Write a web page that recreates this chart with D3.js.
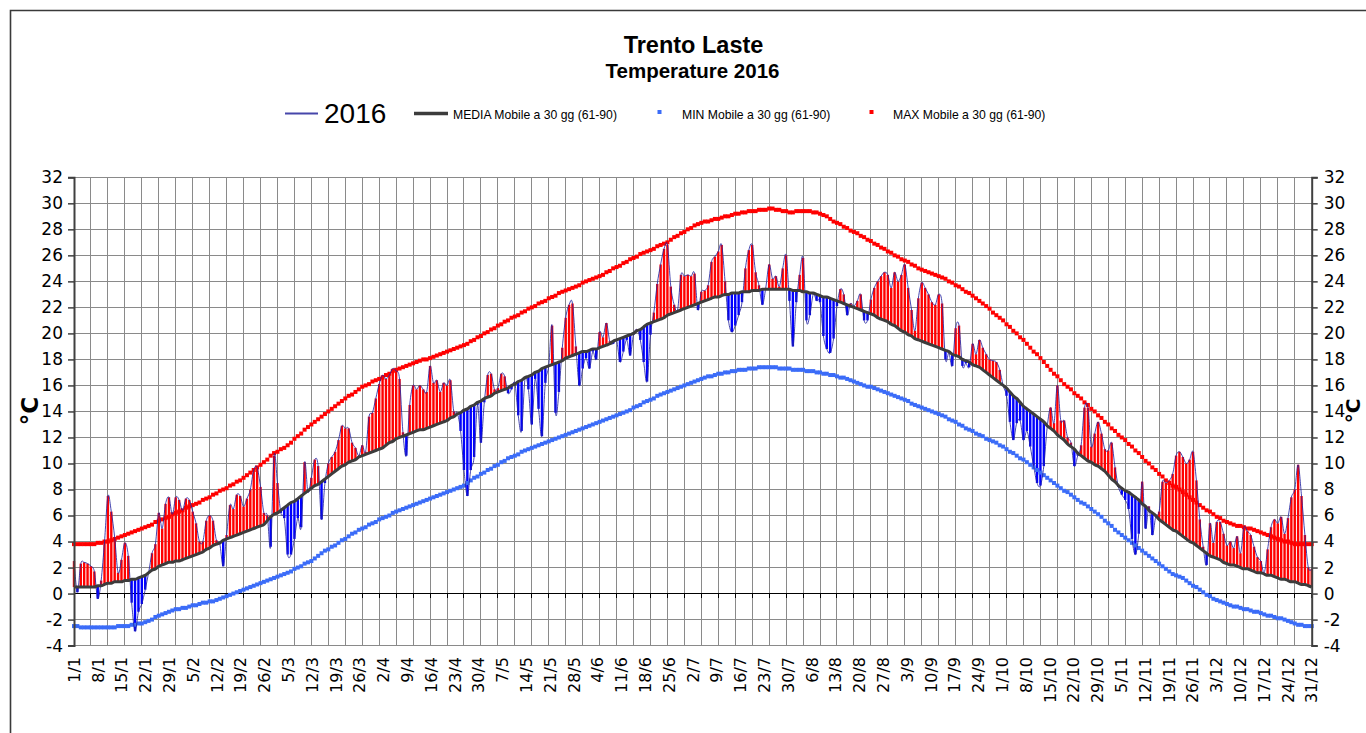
<!DOCTYPE html>
<html><head><meta charset="utf-8">
<script src="https://cdn.jsdelivr.net/npm/d3@7"></script>
<style>body{margin:0;background:#fff;overflow:hidden}</style>
</head><body>
<svg id="c" width="1366" height="733"></svg>
<script>
// ---------- data ----------
const yTicks = [-4,-2,0,2,4,6,8,10,12,14,16,18,20,22,24,26,28,30,32];
const xTickLabels = ["1/1","8/1","15/1","22/1","29/1","5/2","12/2","19/2","26/2","5/3","12/3","19/3","26/3","2/4","9/4","16/4","23/4","30/4","7/5","14/5","21/5","28/5","4/6","11/6","18/6","25/6","2/7","9/7","16/7","23/7","30/7","6/8","13/8","20/8","27/8","3/9","10/9","17/9","24/9","1/10","8/10","15/10","22/10","29/10","5/11","12/11","19/11","26/11","3/12","10/12","17/12","24/12","31/12"];
const seriesNames = ["2016","MEDIA Mobile a 30 gg (61-90)","MIN Mobile a 30 gg (61-90)","MAX Mobile a 30 gg (61-90)"];

// daily mean temperature 2016 (°C), one value per day 1/1 .. 31/12
const temp2016 = [
2.5,0.1,2.3,2.4,2.3,2.1,1.7,-0.4,1.0,4.0,
7.5,6.3,4.3,1.6,2.6,3.9,2.9,-0.7,-2.9,-1.4,
-0.8,0.3,1.6,3.1,3.8,6.2,5.0,6.9,7.4,6.1,
7.4,7.2,6.4,7.3,7.2,6.3,5.4,4.0,4.0,5.6,
6.0,5.6,4.1,3.8,2.1,4.5,6.8,6.5,7.6,7.5,
6.7,7.3,8.0,9.5,9.7,8.2,6.2,6.0,3.6,10.6,
8.5,6.2,5.8,3.0,3.0,4.2,5.8,5.1,10.1,7.8,
8.9,10.3,9.8,5.7,8.5,10.0,10.5,10.9,11.8,12.9,
12.7,12.7,11.6,11.2,10.6,11.4,10.9,13.6,13.9,15.0,
16.1,16.8,16.5,16.8,17.3,17.1,16.5,12.4,10.6,14.5,
16.0,15.7,16.0,15.7,15.5,17.5,16.2,16.4,15.5,16.2,
16.0,16.4,14.0,13.9,12.5,9.5,7.5,9.5,10.5,14.5,
11.6,14.7,16.8,16.9,15.7,15.8,16.9,16.7,15.4,15.7,
16.2,13.7,12.5,16.5,15.7,13.0,16.5,14.2,12.1,16.2,
17.5,20.6,13.9,15.5,18.9,21.2,22.2,22.3,19.0,16.0,
17.3,18.1,17.3,18.6,18.0,20.1,19.7,20.8,19.4,19.2,
19.5,17.8,18.6,19.5,18.3,19.9,20.3,19.5,17.8,16.3,
19.9,21.6,23.8,25.3,26.5,26.8,23.6,22.2,21.8,24.5,
24.4,24.5,24.4,24.6,21.8,23.2,23.3,23.7,25.5,25.9,
26.3,26.8,24.0,21.0,20.1,20.6,21.4,22.4,25.0,26.4,
26.8,24.7,23.7,22.2,23.5,25.3,24.2,24.4,23.6,25.0,
26.0,22.5,19.0,22.4,24.5,25.8,21.0,21.4,23.0,22.5,
22.4,19.8,18.8,18.5,19.6,22.1,23.4,23.0,21.4,22.3,
22.1,22.5,23.0,21.0,21.0,22.6,23.5,24.0,24.4,24.7,
24.5,23.5,24.7,24.0,24.5,25.3,23.5,21.8,20.2,22.7,
23.9,23.5,23.0,22.4,22.2,23.0,22.3,18.0,18.5,17.5,
20.4,20.6,17.5,17.7,17.4,19.2,18.4,19.5,18.9,18.4,
18.0,17.9,17.8,17.2,16.0,15.2,13.2,11.8,13.1,13.3,
11.8,12.5,11.3,9.8,8.5,8.3,9.8,12.8,14.3,13.1,
16.0,13.3,13.3,12.0,11.6,9.8,10.6,11.4,14.3,14.3,
11.3,12.3,13.2,12.3,11.1,11.0,11.6,9.7,8.2,7.6,
7.2,6.5,4.2,3.0,4.6,8.6,5.0,6.7,4.5,5.9,
6.3,8.6,8.5,8.7,9.2,10.6,10.9,10.5,10.0,10.3,
10.9,8.7,5.7,3.6,2.2,5.4,3.9,5.5,5.5,4.6,
3.7,4.0,3.5,4.4,3.1,5.1,4.8,4.5,3.6,2.8,
2.5,1.6,3.4,5.1,5.7,5.4,5.9,4.6,5.8,7.4,
8.0,9.9,7.5,4.5,2.0,1.9
];

// 30-day moving average of the mean (1961-90)
const mediaMA = [
0.5,0.5,0.5,0.5,0.5,0.5,0.5,0.6,0.6,0.7,
0.8,0.8,0.9,0.9,0.9,1.0,1.0,1.1,1.1,1.2,
1.3,1.4,1.6,1.8,1.9,2.1,2.2,2.3,2.4,2.4,
2.5,2.5,2.6,2.7,2.8,2.9,3.0,3.1,3.2,3.4,
3.5,3.7,3.8,3.9,4.1,4.2,4.3,4.4,4.5,4.6,
4.7,4.8,4.9,5.0,5.1,5.2,5.3,5.6,5.9,6.1,
6.2,6.4,6.6,6.8,7.0,7.1,7.3,7.5,7.7,7.9,
8.1,8.3,8.4,8.6,8.8,9.0,9.2,9.4,9.6,9.8,
9.9,10.1,10.2,10.3,10.5,10.6,10.7,10.8,10.9,11.0,
11.1,11.2,11.4,11.6,11.7,11.9,12.0,12.1,12.2,12.3,
12.4,12.5,12.6,12.6,12.7,12.8,12.9,13.0,13.1,13.2,
13.3,13.5,13.6,13.8,13.9,14.1,14.2,14.4,14.5,14.7,
14.8,15.0,15.1,15.2,15.4,15.5,15.6,15.7,15.8,16.0,
16.1,16.3,16.4,16.6,16.7,16.8,17.0,17.1,17.3,17.4,
17.5,17.6,17.7,17.8,17.9,18.1,18.2,18.3,18.4,18.5,
18.6,18.6,18.7,18.8,18.8,18.9,19.0,19.1,19.2,19.4,
19.5,19.6,19.7,19.8,19.9,20.0,20.2,20.3,20.5,20.7,
20.8,20.9,21.0,21.1,21.2,21.4,21.5,21.6,21.7,21.8,
21.9,22.0,22.1,22.2,22.3,22.4,22.5,22.6,22.7,22.8,
22.8,22.9,23.0,23.0,23.1,23.1,23.1,23.2,23.2,23.2,
23.3,23.3,23.3,23.4,23.4,23.4,23.4,23.4,23.4,23.4,
23.4,23.4,23.3,23.3,23.3,23.2,23.2,23.1,23.1,23.0,
22.9,22.8,22.8,22.7,22.6,22.5,22.4,22.3,22.2,22.1,
22.0,21.9,21.8,21.7,21.6,21.5,21.4,21.2,21.1,21.0,
20.9,20.7,20.6,20.4,20.2,20.1,19.9,19.8,19.6,19.5,
19.4,19.3,19.2,19.1,19.0,18.9,18.8,18.7,18.6,18.4,
18.3,18.2,18.0,17.9,17.8,17.6,17.5,17.4,17.2,17.0,
16.8,16.6,16.4,16.2,16.0,15.8,15.5,15.2,15.0,14.7,
14.4,14.2,14.0,13.8,13.6,13.4,13.2,12.9,12.7,12.5,
12.2,12.0,11.8,11.5,11.3,11.1,10.8,10.6,10.4,10.2,
10.1,9.9,9.8,9.6,9.4,9.1,8.8,8.6,8.3,8.1,
7.9,7.8,7.6,7.4,7.2,6.9,6.7,6.4,6.2,6.0,
5.7,5.5,5.3,5.1,4.9,4.8,4.6,4.4,4.2,4.0,
3.9,3.7,3.5,3.3,3.1,2.9,2.8,2.7,2.6,2.4,
2.3,2.2,2.2,2.1,2.0,1.9,1.9,1.8,1.7,1.6,
1.6,1.5,1.4,1.4,1.3,1.2,1.1,1.1,1.0,0.9,
0.9,0.8,0.7,0.7,0.6,0.5
];

// 30-day moving average of the minimum (1961-90)
const minMA = [
-2.5,-2.5,-2.6,-2.6,-2.6,-2.6,-2.6,-2.6,-2.6,-2.6,
-2.6,-2.6,-2.6,-2.5,-2.5,-2.5,-2.5,-2.4,-2.4,-2.3,
-2.3,-2.2,-2.1,-2.0,-1.8,-1.7,-1.6,-1.5,-1.4,-1.3,
-1.2,-1.2,-1.1,-1.1,-1.0,-0.9,-0.9,-0.8,-0.7,-0.7,
-0.6,-0.6,-0.5,-0.4,-0.3,-0.2,-0.1,0.0,0.1,0.2,
0.3,0.4,0.5,0.6,0.7,0.8,0.9,1.0,1.1,1.2,
1.3,1.4,1.5,1.6,1.7,1.9,2.0,2.1,2.3,2.4,
2.5,2.7,2.9,3.1,3.3,3.4,3.6,3.7,3.9,4.1,
4.2,4.4,4.6,4.7,4.9,5.0,5.1,5.3,5.4,5.5,
5.7,5.8,5.9,6.0,6.2,6.3,6.4,6.5,6.6,6.7,
6.8,6.9,7.0,7.1,7.2,7.3,7.4,7.5,7.6,7.7,
7.8,7.9,8.0,8.1,8.2,8.3,8.5,8.7,8.9,9.0,
9.2,9.3,9.5,9.6,9.8,9.9,10.1,10.2,10.4,10.5,
10.6,10.7,10.9,11.0,11.1,11.2,11.3,11.4,11.5,11.6,
11.7,11.8,11.9,12.0,12.1,12.2,12.3,12.4,12.5,12.6,
12.7,12.8,12.9,13.0,13.1,13.2,13.3,13.4,13.5,13.6,
13.7,13.8,13.9,14.0,14.1,14.3,14.4,14.5,14.7,14.8,
14.9,15.0,15.2,15.3,15.4,15.5,15.6,15.7,15.8,15.9,
16.0,16.1,16.2,16.3,16.4,16.5,16.6,16.7,16.7,16.8,
16.9,16.9,17.0,17.0,17.1,17.1,17.2,17.2,17.2,17.3,
17.3,17.3,17.4,17.4,17.4,17.4,17.4,17.4,17.3,17.3,
17.3,17.3,17.2,17.2,17.2,17.2,17.1,17.1,17.1,17.0,
17.0,16.9,16.9,16.8,16.8,16.7,16.6,16.6,16.5,16.4,
16.3,16.2,16.1,16.0,15.9,15.9,15.8,15.7,15.6,15.5,
15.4,15.3,15.2,15.1,15.0,14.9,14.8,14.6,14.5,14.4,
14.3,14.2,14.1,14.0,13.9,13.8,13.7,13.6,13.4,13.3,
13.2,13.0,12.9,12.7,12.6,12.5,12.3,12.2,12.1,11.9,
11.8,11.7,11.6,11.4,11.3,11.1,10.9,10.8,10.6,10.4,
10.3,10.1,9.9,9.7,9.5,9.3,9.1,8.9,8.7,8.5,
8.3,8.1,7.9,7.8,7.6,7.4,7.2,7.0,6.9,6.7,
6.5,6.3,6.1,5.9,5.6,5.4,5.2,4.9,4.7,4.5,
4.3,4.1,3.9,3.7,3.5,3.3,3.1,2.9,2.7,2.5,
2.3,2.1,1.9,1.7,1.5,1.4,1.3,1.2,1.0,0.8,
0.6,0.5,0.3,0.1,-0.1,-0.2,-0.4,-0.5,-0.6,-0.7,
-0.8,-0.9,-1.0,-1.0,-1.1,-1.2,-1.2,-1.3,-1.4,-1.4,
-1.5,-1.6,-1.7,-1.7,-1.8,-1.9,-1.9,-2.0,-2.1,-2.2,
-2.3,-2.4,-2.4,-2.5,-2.5,-2.5
];

// 30-day moving average of the maximum (1961-90)
const maxMA = [
3.8,3.8,3.8,3.8,3.8,3.8,3.8,3.9,3.9,4.0,
4.0,4.1,4.2,4.3,4.4,4.5,4.6,4.7,4.8,4.9,
5.0,5.1,5.2,5.3,5.5,5.6,5.7,5.8,5.9,6.1,
6.2,6.3,6.4,6.6,6.7,6.8,6.9,7.0,7.2,7.3,
7.4,7.6,7.7,7.9,8.0,8.1,8.3,8.4,8.6,8.7,
8.9,9.1,9.3,9.5,9.7,9.9,10.1,10.3,10.6,10.8,
10.9,11.1,11.2,11.4,11.6,11.9,12.1,12.3,12.6,12.8,
13.0,13.2,13.4,13.6,13.8,14.0,14.2,14.4,14.6,14.8,
15.0,15.2,15.3,15.5,15.7,15.9,16.0,16.1,16.3,16.4,
16.5,16.6,16.8,16.9,17.1,17.2,17.3,17.4,17.5,17.6,
17.7,17.8,17.9,18.0,18.0,18.1,18.2,18.3,18.4,18.5,
18.6,18.7,18.8,18.9,19.0,19.1,19.2,19.4,19.5,19.7,
19.8,20.0,20.1,20.3,20.4,20.6,20.7,20.9,21.0,21.2,
21.3,21.4,21.6,21.7,21.9,22.0,22.1,22.3,22.4,22.5,
22.7,22.8,22.9,23.1,23.2,23.3,23.4,23.5,23.6,23.7,
23.9,24.0,24.1,24.2,24.3,24.4,24.5,24.7,24.8,25.0,
25.1,25.2,25.4,25.5,25.7,25.8,25.9,26.1,26.2,26.3,
26.4,26.5,26.7,26.8,26.9,27.0,27.2,27.4,27.5,27.7,
27.8,28.0,28.1,28.3,28.4,28.5,28.6,28.6,28.7,28.8,
28.8,28.9,29.0,29.0,29.1,29.2,29.2,29.3,29.3,29.4,
29.4,29.4,29.5,29.5,29.5,29.6,29.6,29.5,29.5,29.4,
29.4,29.3,29.3,29.4,29.4,29.4,29.4,29.4,29.3,29.3,
29.2,29.1,29.0,28.8,28.6,28.5,28.4,28.2,28.1,27.9,
27.8,27.7,27.5,27.4,27.2,27.1,26.9,26.8,26.6,26.5,
26.3,26.2,26.0,25.9,25.7,25.6,25.5,25.3,25.2,25.0,
24.9,24.8,24.7,24.6,24.5,24.4,24.3,24.2,24.0,23.9,
23.7,23.6,23.4,23.2,23.1,22.9,22.7,22.5,22.3,22.1,
21.9,21.6,21.4,21.2,21.0,20.7,20.5,20.2,20.0,19.7,
19.5,19.2,18.9,18.6,18.4,18.1,17.8,17.5,17.2,16.9,
16.7,16.4,16.1,15.9,15.7,15.4,15.2,15.0,14.7,14.5,
14.2,14.0,13.7,13.5,13.2,13.0,12.7,12.5,12.2,12.0,
11.8,11.5,11.3,11.0,10.8,10.5,10.2,10.0,9.7,9.5,
9.2,9.0,8.7,8.5,8.3,8.2,8.0,7.8,7.6,7.4,
7.2,7.0,6.8,6.6,6.4,6.3,6.1,5.9,5.8,5.6,
5.5,5.4,5.3,5.2,5.2,5.1,5.0,5.0,4.9,4.8,
4.7,4.6,4.5,4.4,4.3,4.2,4.1,4.0,4.0,3.9,
3.8,3.8,3.8,3.8,3.8,3.8
];

// ---------- chart ----------
const svg = d3.select("#c");
const X0 = 74, X1 = 1311.7, YT = 177.3, YB = 645.6;
const nDays = temp2016.length;
const x = d3.scaleLinear().domain([0, nDays - 1]).range([X0, X1]);
const y = d3.scaleLinear().domain([-4, 32]).range([YB, YT]);
const xLab = d3.scalePoint().domain(xTickLabels).range([X0, X1]);
const days = d3.range(nDays);

// outer frame
svg.append("path").attr("d", "M10.5,733 V10.5 H1366")
  .attr("fill", "none").attr("stroke", "#3a3a3a").attr("stroke-width", 1.6);

// grid
const grid = svg.append("g").attr("shape-rendering", "crispEdges");
grid.selectAll("line.h").data(yTicks.filter(v => v !== 0)).join("line")
  .attr("x1", X0).attr("x2", X1).attr("y1", d => y(d)).attr("y2", d => y(d))
  .attr("stroke", "#8a8a8a").attr("stroke-width", 1);
grid.selectAll("line.v").data(days.filter(d => d % 5 === 0 && d > 0 && d < nDays - 1)).join("line")
  .attr("x1", d => x(d)).attr("x2", d => x(d)).attr("y1", YT).attr("y2", YB)
  .attr("stroke", "#8a8a8a").attr("stroke-width", 1);

// zero axis with small ticks
svg.append("line").attr("x1", X0).attr("x2", X1).attr("y1", y(0)).attr("y2", y(0))
  .attr("stroke", "#000").attr("stroke-width", 1).attr("shape-rendering", "crispEdges");
svg.append("g").selectAll("line").data(days.filter(d => d % 5 === 0)).join("line")
  .attr("x1", d => x(d)).attr("x2", d => x(d)).attr("y1", y(0)).attr("y2", y(0) + 4)
  .attr("stroke", "#000").attr("stroke-width", 1).attr("shape-rendering", "crispEdges");

// deviation bars
svg.append("g").selectAll("rect").data(days).join("rect")
  .attr("x", d => x(d) - 1.2).attr("width", 2.4)
  .attr("y", d => y(Math.max(temp2016[d], mediaMA[d])))
  .attr("height", d => Math.abs(y(temp2016[d]) - y(mediaMA[d])))
  .attr("fill", d => temp2016[d] >= mediaMA[d] ? "#ff0000" : "#0000ff");

// MIN / MAX markers
function markers(arr, color) {
  svg.append("g").selectAll("rect").data(days).join("rect")
    .attr("x", d => x(d) - 2).attr("y", d => y(arr[d]) - 2)
    .attr("width", 4).attr("height", 4).attr("fill", color);
}
markers(minMA, "#3b6cf8");
markers(maxMA, "#ff0000");

// daily line
svg.append("path").datum(days)
  .attr("d", d3.line().x(d => x(d)).y(d => y(temp2016[d])).curve(d3.curveCardinal.tension(0)))
  .attr("fill", "none").attr("stroke", "#2424a0").attr("stroke-width", 0.85);

// media line
svg.append("path").datum(days)
  .attr("d", d3.line().x(d => x(d)).y(d => y(mediaMA[d])).curve(d3.curveMonotoneX))
  .attr("fill", "none").attr("stroke", "#3c3c3c").attr("stroke-width", 3);

// axes
const axisFont = "'DejaVu Sans', Verdana, sans-serif";
const fmt = d => String(d);
svg.append("g").attr("transform", `translate(${X0},0)`)
  .call(d3.axisLeft(y).tickValues(yTicks).tickSize(6).tickPadding(5).tickFormat(fmt))
  .call(g => g.select(".domain").attr("stroke", "#404040").attr("stroke-width", 2))
  .call(g => g.selectAll(".tick line").attr("stroke", "#404040").attr("stroke-width", 1.5))
  .call(g => g.selectAll("text").attr("font-family", axisFont).attr("font-size", 17).attr("fill", "#000"));
svg.append("g").attr("transform", `translate(${X1},0)`)
  .call(d3.axisRight(y).tickValues(yTicks).tickSize(6).tickPadding(6).tickFormat(fmt))
  .call(g => g.select(".domain").attr("stroke", "#404040").attr("stroke-width", 2))
  .call(g => g.selectAll(".tick line").attr("stroke", "#404040").attr("stroke-width", 1.5))
  .call(g => g.selectAll("text").attr("font-family", axisFont).attr("font-size", 17).attr("fill", "#000"));

// x labels
svg.append("g").selectAll("text").data(xTickLabels).join("text")
  .attr("transform", d => `translate(${xLab(d)},657) rotate(-90)`)
  .attr("text-anchor", "end").attr("dy", "0.36em")
  .attr("font-family", axisFont).attr("font-size", 16).attr("fill", "#000")
  .text(d => d);

// axis titles
svg.append("text").attr("transform", "translate(31,411) rotate(-90)")
  .attr("text-anchor", "middle").attr("dy", "0.3em")
  .attr("font-family", axisFont).attr("font-weight", "bold").attr("font-size", 23)
  .text("°C");
svg.append("text").attr("transform", "translate(1360,411) rotate(-90)")
  .attr("text-anchor", "middle")
  .attr("font-family", axisFont).attr("font-weight", "bold").attr("font-size", 20)
  .text("°C");

// titles
const titleFont = "'Liberation Sans', Arial, sans-serif";
svg.append("text").attr("x", 693.5).attr("y", 53.3).attr("text-anchor", "middle")
  .attr("font-family", titleFont).attr("font-weight", "bold").attr("font-size", 23.5).text("Trento Laste");
svg.append("text").attr("x", 692.5).attr("y", 77.5).attr("text-anchor", "middle")
  .attr("font-family", titleFont).attr("font-weight", "bold").attr("font-size", 20.5).text("Temperature 2016");

// legend
const lg = svg.append("g").attr("font-family", titleFont);
lg.append("line").attr("x1", 285).attr("x2", 318).attr("y1", 113.5).attr("y2", 113.5)
  .attr("stroke", "#4646aa").attr("stroke-width", 2);
lg.append("text").attr("x", 324).attr("y", 123.3).attr("font-size", 28).text(seriesNames[0]);
lg.append("line").attr("x1", 414).attr("x2", 448).attr("y1", 113.5).attr("y2", 113.5)
  .attr("stroke", "#3c3c3c").attr("stroke-width", 3.5);
lg.append("text").attr("x", 453).attr("y", 119).attr("font-size", 12.2).text(seriesNames[1]);
lg.append("rect").attr("x", 657.5).attr("y", 110).attr("width", 4).attr("height", 4).attr("fill", "#3b6cf8");
lg.append("text").attr("x", 682).attr("y", 119).attr("font-size", 12.2).text(seriesNames[2]);
lg.append("rect").attr("x", 869.5).attr("y", 110).attr("width", 4).attr("height", 4).attr("fill", "#ff0000");
lg.append("text").attr("x", 893).attr("y", 119).attr("font-size", 12.2).text(seriesNames[3]);
</script>
</body></html>
